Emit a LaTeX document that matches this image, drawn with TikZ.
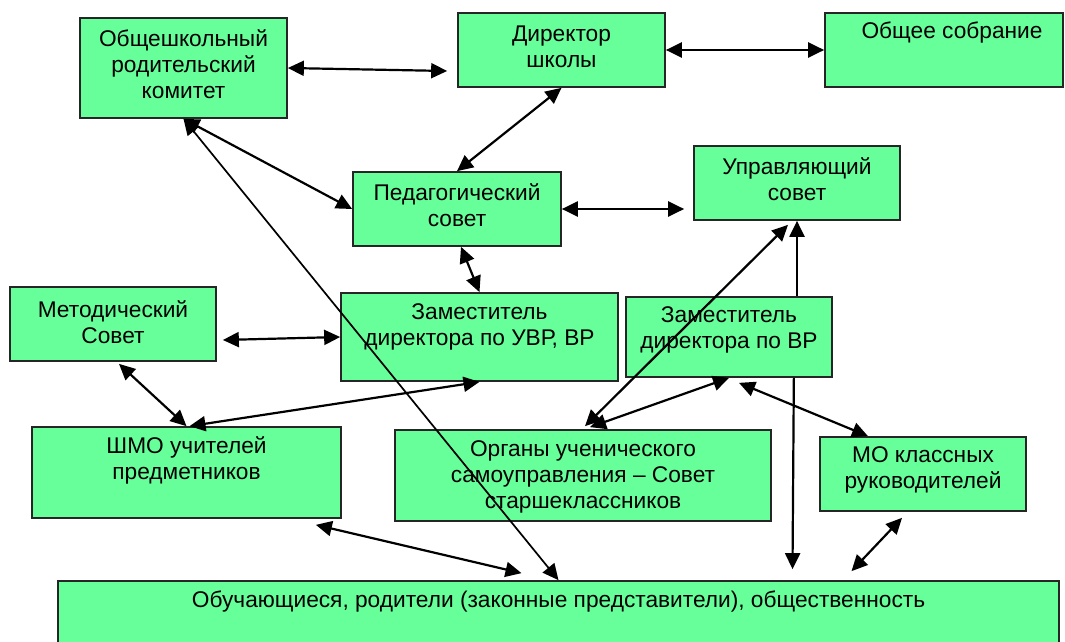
\documentclass[tikz,border=0pt]{standalone}
\usepackage{fontspec}
\setmainfont{Liberation Sans}
\usetikzlibrary{arrows.meta}
\definecolor{boxgreen}{RGB}{102,255,153}
\tikzset{
  blk/.style={draw=black!85, line width=1.7pt, fill=boxgreen, inner sep=0pt},
  txt/.style={align=center, inner sep=0pt, font=\fontsize{22.7}{26}\selectfont},
}

\begin{document}
\begin{tikzpicture}[x=1pt, y=-1pt, line width=2.2pt, >={Triangle[length=16pt,width=15pt]}]
\useasboundingbox (0,0) rectangle (1065,642);
% boxes
\node[blk, minimum width=207, minimum height=100] (rod) at (183.5,68) {};
\node[blk, minimum width=207, minimum height=74] (dir) at (561.5,50) {};
\node[blk, minimum width=238, minimum height=74] (sob) at (944,50) {};
\node[blk, minimum width=208, minimum height=74] (ped) at (457,209) {};
\node[blk, minimum width=206, minimum height=74] (upr) at (797,183) {};
\node[blk, minimum width=206, minimum height=74] (met) at (113,324) {};
\node[blk, minimum width=277, minimum height=88] (zuvr) at (479.5,337) {};
\node[blk, minimum width=206, minimum height=80] (zvr) at (729,337) {};
\node[blk, minimum width=309, minimum height=91] (shmo) at (186.5,472.5) {};
\node[blk, minimum width=376, minimum height=91] (org) at (583,475.5) {};
\node[blk, minimum width=206, minimum height=74] (mo) at (923,474) {};
\node[blk, minimum width=1001, minimum height=69] (obu) at (558.5,615.5) {};
% texts
\node[txt] (rodt) at (183.5,64) {Общешкольный\\родительский\\комитет};
\node[txt] (dirt) at (561.5,46.5) {Директор\\школы};
\node[txt] (sobt) at (952,33) {Общее собрание};
\node[txt] (pedt) at (457,205.5) {Педагогический\\совет};
\node[txt] (uprt) at (797,179.5) {Управляющий\\совет};
\node[txt] (mett) at (113,322) {Методический\\Совет};
\node[txt] (zuvrt) at (479.5,327) {Заместитель\\директора по УВР, ВР};
\node[txt] (zvrt) at (729,329.5) {Заместитель\\директора по ВР};
\node[txt] (shmot) at (186.5,460) {ШМО учителей\\предметников};
\node[txt] (orgt) at (583,477) {Органы ученического\\самоуправления – Совет\\старшеклассников};
\node[txt] (mot) at (923,470) {МО классных\\руководителей};
\node[txt] (obut) at (558.5,602) {Обучающиеся, родители (законные представители), общественность};
% links
\draw[<->] (rod.east) -- ([shift={(-10,21)}]dir.west);
\draw[<->] (dir.east) -- (sob.west);
\draw[<->] (dir.south) -- (ped.north);
\draw[<->] (rod.south) -- (ped.west);
\draw[<->, line width=1.7pt] (rod.south) -- (obu.north);
\draw[<->] (ped.east) -- ([shift={(-9,26)}]upr.west);
\draw[<->] ([xshift=4]ped.south) -- (zuvr.north);
\draw[<->] ([shift={(6,16)}]met.east) -- (zuvr.west);
\draw[<->] ([shift={(6,2)}]met.south) -- (shmo.north);
\draw[<->] (zuvr.south) -- ([xshift=3]shmo.north);
\draw[<->] ([shift={(-26,6)}]shmo.south east) -- ([shift={(-37,-7)}]obu.north);
\draw[<->] ([shift={(2,-3)}]org.north) -- ([shift={(-9,4)}]upr.south);
\draw[->] (upr.south |- zvr.north) -- (upr.south);
\draw[->] ([xshift=-39]zvr.south east) -- ([shift={(234,-11)}]obu.north);
\draw[<->] ([shift={(7,-2)}]org.north) -- (zvr.south);
\draw[<->] ([shift={(10,5)}]zvr.south) -- ([xshift=-55]mo.north);
\draw[<->] ([shift={(-21,6)}]mo.south) -- ([shift={(293,-9)}]obu.north);
\end{tikzpicture}
\end{document}
